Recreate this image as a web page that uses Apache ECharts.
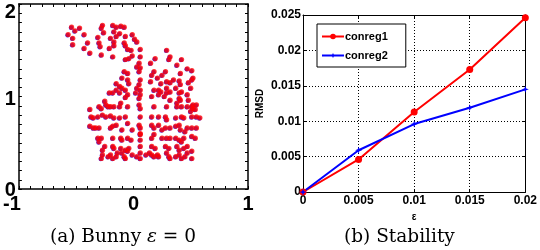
<!DOCTYPE html>
<html><head><meta charset="utf-8">
<script src="https://cdn.jsdelivr.net/npm/echarts@6/dist/echarts.min.js"></script>
<style>html,body{margin:0;padding:0;background:#fff}#c{width:540px;height:250px}</style>
</head><body><div id="c"></div>
<script>
// ---- Data: (a) Bunny point cloud (x, y), eps = 0 ----
var bunnyPoints = [
[-0.54,1.75],[-0.51,1.71],[-0.47,1.74],[-0.27,1.77],[-0.28,1.74],[-0.18,1.77],[-0.15,1.75],[-0.11,1.76],[-0.08,1.75],
[-0.57,1.67],[-0.43,1.67],[-0.26,1.69],[-0.31,1.64],[-0.17,1.70],[-0.12,1.68],[-0.07,1.65],[-0.01,1.67],
[-0.53,1.63],[-0.40,1.58],[-0.30,1.58],[-0.20,1.63],[-0.15,1.65],[-0.17,1.59],[-0.08,1.58],[0.01,1.62],[0.03,1.59],
[-0.53,1.56],[-0.43,1.52],[-0.29,1.54],[-0.21,1.52],[-0.17,1.55],[-0.05,1.51],[-0.02,1.50],[-0.07,1.55],
[-0.38,1.47],[-0.28,1.45],[-0.18,1.43],[-0.07,1.40],[-0.04,1.41],[-0.01,1.44],[0.06,1.51],[0.06,1.43],[0.19,1.41],[0.29,1.50],[0.32,1.43],[0.31,1.40],
[0.05,1.36],[0.15,1.36],[0.38,1.34],[0.42,1.40],[0.03,1.32],
[-0.08,1.27],[-0.05,1.25],[0.05,1.27],[0.06,1.31],[0.18,1.27],[0.16,1.23],[0.25,1.23],[0.28,1.27],[0.41,1.25],[0.47,1.30],[0.51,1.28],
[-0.10,1.20],[-0.05,1.18],[-0.04,1.14],[0.06,1.18],[0.05,1.13],[0.15,1.16],[0.21,1.20],[0.24,1.14],[0.29,1.16],[0.32,1.15],[0.35,1.18],[0.40,1.17],[0.41,1.13],[0.48,1.15],[0.51,1.18],[0.52,1.20],
[-0.15,1.14],[-0.12,1.11],[-0.10,1.09],[-0.07,1.07],[-0.15,1.07],[0.03,1.09],[0.06,1.07],[0.02,1.04],[0.18,1.07],[0.22,1.07],[0.24,1.05],[0.29,1.09],[0.32,1.05],[0.37,1.09],[0.40,1.04],[0.42,1.05],[0.50,1.09],
[-0.21,1.04],[-0.18,1.04],[-0.12,1.04],[-0.05,1.02],[-0.07,0.99],[0.05,0.98],[0.06,1.02],[0.16,1.00],[0.22,1.02],[0.29,1.04],[0.27,1.00],[0.32,0.96],[0.40,0.98],[0.38,0.93],[0.41,0.96],[0.47,1.02],
[-0.25,0.95],[-0.24,0.91],[-0.30,0.89],[-0.28,0.87],[-0.22,0.89],[-0.20,0.89],[-0.17,0.89],[-0.12,0.89],[-0.11,0.93],[-0.05,0.89],[0.05,0.91],[0.06,0.87],[0.18,0.89],[0.29,0.89],[0.38,0.89],[0.42,0.89],[0.47,0.89],[0.48,0.96],[0.51,0.89],[0.52,0.91],[0.55,0.91],[0.54,0.86],
[-0.38,0.86],[-0.37,0.78],[-0.35,0.77],[-0.31,0.78],[-0.27,0.80],[-0.24,0.78],[-0.20,0.79],[-0.17,0.77],[-0.12,0.77],[-0.07,0.78],[0.06,0.78],[0.16,0.78],[0.22,0.78],[0.28,0.78],[0.29,0.75],[0.37,0.77],[0.42,0.78],[0.44,0.77],[0.51,0.78],[0.55,0.78],[0.58,0.77],[0.50,0.84],[0.52,0.87],
[-0.38,0.68],[-0.35,0.66],[-0.33,0.66],[-0.30,0.66],[-0.20,0.66],[-0.18,0.68],[-0.15,0.69],[-0.10,0.64],[-0.05,0.71],[-0.01,0.64],[0.05,0.69],[0.06,0.66],[0.06,0.60],[0.16,0.69],[0.18,0.66],[0.22,0.69],[0.25,0.64],[0.28,0.66],[0.32,0.66],[0.37,0.68],[0.40,0.69],[0.41,0.64],[0.47,0.66],[0.51,0.66],[0.55,0.66],[0.45,0.62],
[-0.31,0.55],[-0.28,0.55],[-0.30,0.51],[-0.18,0.55],[-0.11,0.55],[-0.10,0.53],[-0.05,0.55],[-0.02,0.53],[0.06,0.59],[0.06,0.53],[0.16,0.55],[0.18,0.59],[0.25,0.55],[0.29,0.55],[0.32,0.55],[0.37,0.55],[0.40,0.53],[0.44,0.55],[0.51,0.57],[0.54,0.55],[0.42,0.51],
[-0.25,0.46],[-0.27,0.42],[-0.18,0.46],[-0.17,0.44],[-0.11,0.44],[-0.07,0.42],[-0.04,0.44],[0.06,0.46],[0.16,0.46],[0.19,0.44],[0.28,0.46],[0.31,0.44],[0.38,0.46],[0.40,0.42],[0.44,0.44],[0.47,0.46],[0.51,0.41],
[-0.28,0.33],[-0.27,0.37],[-0.22,0.35],[-0.20,0.37],[-0.18,0.33],[-0.15,0.35],[-0.14,0.39],[-0.10,0.39],[-0.08,0.35],[-0.07,0.33],[-0.05,0.41],[-0.01,0.37],[0.03,0.35],[0.06,0.39],[0.06,0.33],[0.11,0.37],[0.14,0.39],[0.16,0.37],[0.18,0.35],[0.21,0.37],[0.22,0.35],[0.29,0.39],[0.31,0.35],[0.32,0.33],[0.37,0.35],[0.40,0.37],[0.42,0.33],[0.45,0.35],[0.47,0.39],[0.51,0.33]
];

// ---- Data: (b) Stability ----
var epsValues = [0, 0.005, 0.01, 0.015, 0.02];
var conreg1 = [0, 0.0046, 0.0113, 0.0173, 0.0246];
var conreg2 = [0, 0.0059, 0.0096, 0.0119, 0.0145];
var seriesNames = ['conreg1', 'conreg2'];
var bunnyXLabels = ['-1', '0', '1'];
var bunnyYLabels = ['0', '1', '2'];
var stabXLabels = ['0', '0.005', '0.01', '0.015', '0.02'];
var stabYLabels = ['0', '0.005', '0.01', '0.015', '0.02', '0.025'];

var SANS = '"Liberation Sans", Arial, sans-serif';
var SERIF = '"DejaVu Serif", "Liberation Serif", serif';
var starPath = 'path://M0,-10 L2.5,-2.5 L10,0 L2.5,2.5 L0,10 L-2.5,2.5 L-10,0 L-2.5,-2.5 Z';

function pair(a, b) { return a.map(function (v, i) { return [v, b[i]]; }); }

function bunnyAxis(extra) {
  var base = {
    axisLine: { show: true, onZero: false, lineStyle: { color: '#000', width: 1.5 } },
    axisTick: { show: true, inside: true, length: 3, lineStyle: { color: '#000' } },
    minorTick: { show: true, splitNumber: 10, length: 3, lineStyle: { color: '#000' } },
    splitLine: { show: false },
    axisLabel: { show: false }
  };
  return Object.assign(base, extra);
}
function stabAxis(extra) {
  var base = {
    axisLine: { show: true, onZero: false, lineStyle: { color: '#000', width: 1 } },
    axisTick: { show: true, inside: true, length: 3, lineStyle: { color: '#000' } },
    splitLine: { show: false },
    axisLabel: { show: false }
  };
  return Object.assign(base, extra);
}

var chart = echarts.init(document.getElementById('c'), null, { renderer: 'canvas' });
chart.setOption({
  animation: false,
  backgroundColor: '#fff',
  grid: [
    { left: 17, top: 4, width: 231, height: 185 },
    { left: 303, top: 15, width: 225, height: 177 }
  ],
  xAxis: [
    bunnyAxis({ gridIndex: 0, type: 'value', min: -1, max: 1, interval: 1, position: 'bottom',
      axisLabel: { show: true, color: '#000', fontFamily: SANS, fontWeight: 'bold', fontSize: 20, margin: 5,
        formatter: function (v, i) { return i === 0 ? '{m|' + bunnyXLabels[i] + '}' : bunnyXLabels[i]; },
        rich: { m: { fontFamily: SANS, fontWeight: 'bold', fontSize: 20, color: '#000', padding: [0, 14, 0, 0] } } } }),
    bunnyAxis({ gridIndex: 0, type: 'value', min: -1, max: 1, interval: 1, position: 'top' }),
    stabAxis({ gridIndex: 1, type: 'value', min: 0, max: 0.02, interval: 0.005, position: 'bottom',
      splitLine: { show: true, lineStyle: { color: '#000', type: [1, 2], width: 1 } },
      name: 'ε', nameLocation: 'middle', nameGap: 19,
      nameTextStyle: { color: '#000', fontFamily: SANS, fontWeight: 'bold', fontSize: 10 },
      axisLabel: { show: true, color: '#000', fontFamily: SANS, fontWeight: 'bold', fontSize: 12, margin: 3,
        formatter: function (v, i) { return stabXLabels[i]; } } }),
    stabAxis({ gridIndex: 1, type: 'value', min: 0, max: 0.02, interval: 0.005, position: 'top' })
  ],
  yAxis: [
    bunnyAxis({ gridIndex: 0, type: 'value', min: 0, max: 2, interval: 1, position: 'left',
      axisLabel: { show: true, color: '#000', fontFamily: SANS, fontWeight: 'bold', fontSize: 20, margin: 3,
        formatter: function (v, i) { return '{l' + i + '|' + bunnyYLabels[i] + '}'; },
        rich: {
          l0: { fontFamily: SANS, fontWeight: 'bold', fontSize: 20, color: '#000', padding: [2, 0, 0, 0] },
          l1: { fontFamily: SANS, fontWeight: 'bold', fontSize: 20, color: '#000', padding: [6, 0, 0, 0] },
          l2: { fontFamily: SANS, fontWeight: 'bold', fontSize: 20, color: '#000', padding: [16, 0, 0, 0] }
        } } }),
    bunnyAxis({ gridIndex: 0, type: 'value', min: 0, max: 2, interval: 1, position: 'right' }),
    stabAxis({ gridIndex: 1, type: 'value', min: 0, max: 0.025, interval: 0.005, position: 'left',
      splitLine: { show: true, lineStyle: { color: '#000', type: [1, 2], width: 1 } },
      name: 'RMSD', nameLocation: 'middle', nameGap: 38, nameRotate: 90,
      nameTextStyle: { color: '#000', fontFamily: SANS, fontWeight: 'bold', fontSize: 10 },
      axisLabel: { show: true, color: '#000', fontFamily: SANS, fontWeight: 'bold', fontSize: 12, margin: 2,
        formatter: function (v, i) { return stabYLabels[i]; } } }),
    stabAxis({ gridIndex: 1, type: 'value', min: 0, max: 0.025, interval: 0.005, position: 'right' })
  ],
  legend: {
    data: seriesNames,
    orient: 'vertical', left: 317, top: 24,
    backgroundColor: '#fff', borderColor: '#000', borderWidth: 1, borderRadius: 0,
    padding: [7, 18, 6, 4], itemGap: 8, itemWidth: 22, itemHeight: 7,
    textStyle: { color: '#000', fontFamily: SANS, fontWeight: 'bold', fontSize: 11, padding: [0, 0, 0, -4] }
  },
  series: [
    { type: 'scatter', xAxisIndex: 0, yAxisIndex: 0, data: bunnyPoints, symbol: 'circle', symbolSize: 4.5,
      symbolOffset: [-0.6, 0.6], itemStyle: { color: '#0000ff' }, silent: true },
    { type: 'scatter', xAxisIndex: 0, yAxisIndex: 0, data: bunnyPoints, symbol: 'circle', symbolSize: 5.2,
      itemStyle: { color: '#ff0000' }, silent: true },
    { name: 'conreg1', type: 'line', xAxisIndex: 2, yAxisIndex: 2, data: pair(epsValues, conreg1),
      symbol: 'circle', symbolSize: 7, lineStyle: { color: '#ff0000', width: 2 }, itemStyle: { color: '#ff0000' } },
    { name: 'conreg2', type: 'line', xAxisIndex: 2, yAxisIndex: 2, data: pair(epsValues, conreg2),
      symbol: starPath, symbolSize: 7, lineStyle: { color: '#0000ff', width: 2 }, itemStyle: { color: '#0000ff' } }
  ],
  graphic: [
    { type: 'text', left: 50, top: 228, style: {
      text: '{n|(a) Bunny }{e|ε}{n| = 0}', fill: '#000',
      rich: { n: { fontFamily: SERIF, fontSize: 18.5, fill: '#000' }, e: { fontFamily: SERIF, fontStyle: 'italic', fontSize: 18.5, fill: '#000' } } } },
    { type: 'text', left: 344, top: 228, style: {
      text: '(b) Stability', fill: '#000', fontFamily: SERIF, fontSize: 18.5 } }
  ]
});
</script></body></html>
